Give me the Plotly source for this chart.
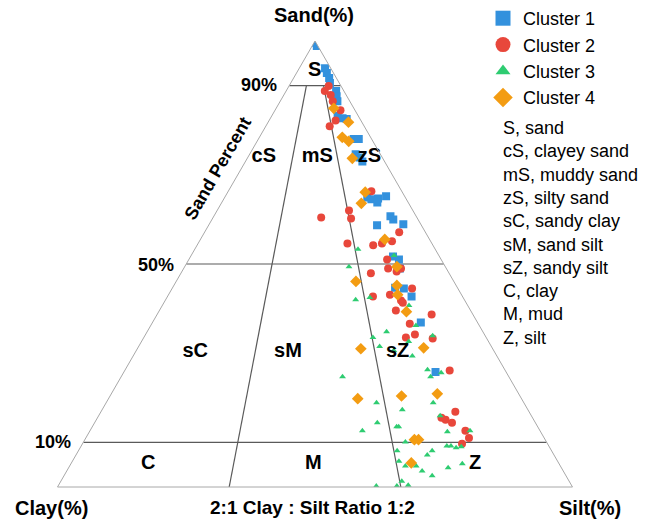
import plotly.graph_objects as go

# ---------------- data (Sand, Clay, Silt in %) ----------------
c1_sand = [99.6, 98.9, 93.9, 92.8, 91.7, 90.6, 88.8, 87.6, 86.5, 83.2, 82.7, 82.5, 78.0, 78.0, 74.6, 73.9, 73.0,
           64.9, 64.5, 64.7, 65.2, 63.8, 60.7, 60.0, 58.9, 58.7, 51.7, 51.0, 49.0, 44.7, 44.5, 42.7, 36.9, 25.8]
c1_clay = [0.2, 0.2, 1.1, 1.3, 1.4, 1.8, 1.5, 2.0, 2.4, 4.0, 3.3, 2.6, 3.5, 2.5, 4.8, 4.4, 4.3,
           7.4, 6.8, 5.4, 3.6, 6.0, 5.0, 4.8, 3.4, 8.6, 9.0, 8.2, 9.0, 12.1, 10.5, 9.9, 11.0, 13.7]
c1_silt = [0.2, 0.9, 5.0, 5.9, 6.9, 7.6, 9.7, 10.4, 11.1, 12.8, 14.0, 14.9, 18.5, 19.5, 20.6, 21.7, 22.7,
           27.7, 28.7, 29.9, 31.2, 30.2, 34.3, 35.2, 37.7, 32.7, 39.3, 40.8, 42.0, 43.2, 45.0, 47.4, 52.1, 60.5]

c2_sand = [89.9, 88.8, 87.9, 86.5, 84.5, 82.2, 80.9, 66.3, 62.0, 60.4, 60.2, 57.1, 55.1, 54.6, 54.2, 54.6, 51.0,
           49.0, 48.3, 49.0, 47.9, 44.5, 42.7, 43.1, 41.8, 41.3, 39.6, 38.7, 36.6, 34.2, 33.5, 33.3, 26.1, 16.9,
           15.5, 15.1, 14.4, 12.6, 11.0, 9.7]
c2_clay = [2.4, 3.7, 3.0, 3.3, 2.8, 4.9, 6.7, 5.9, 12.4, 18.6, 12.9, 5.1, 7.5, 9.7, 11.6, 16.4, 10.5,
           11.3, 10.0, 8.8, 15.2, 8.9, 17.4, 13.9, 12.4, 12.3, 14.5, 8.0, 13.3, 13.5, 15.6, 10.5, 10.8, 14.3,
           17.7, 17.1, 16.2, 14.5, 14.6, 16.6]
c2_silt = [7.7, 7.5, 9.1, 10.2, 12.7, 12.9, 12.4, 27.8, 25.6, 21.0, 26.9, 37.8, 37.4, 35.7, 34.2, 29.0, 38.5,
           39.7, 41.7, 42.2, 36.9, 46.6, 39.9, 43.0, 45.8, 46.4, 45.9, 53.3, 50.1, 52.3, 50.9, 56.2, 63.1, 68.8,
           66.8, 67.8, 69.4, 72.9, 74.4, 73.7]

c3_sand = [53.3, 51.9, 49.4, 42.5, 42.0, 40.7, 36.2, 34.8, 33.5, 32.6, 33.9, 31.5, 30.6, 29.4, 26.3, 25.6,
           24.7, 24.7, 18.9, 17.3, 18.9, 16.0, 14.4, 13.5, 13.5, 12.6, 12.4, 12.6, 10.1, 9.2, 9.2, 8.8, 9.0,
           8.1, 8.1, 7.2, 5.8, 4.7, 4.7, 4.3, 5.2, 3.6, 2.5, 0.2, 0.2, 1.3, 0.4]
c3_clay = [15.0, 8.7, 18.7, 18.1, 21.1, 11.4, 12.3, 18.7, 22.0, 15.5, 10.2, 21.7, 19.4, 16.4, 15.0, 12.7,
           15.2, 32.3, 28.6, 24.4, 17.6, 17.7, 30.7, 27.4, 27.0, 34.5, 18.1, 13.6, 27.4, 19.8, 19.0, 18.2, 17.1,
           30.0, 23.2, 24.6, 30.8, 30.1, 28.0, 22.0, 18.8, 27.4, 26.0, 38.0, 34.0, 32.5, 31.7]
c3_silt = [31.7, 39.4, 31.9, 39.4, 36.9, 47.9, 51.5, 46.5, 44.5, 51.9, 55.9, 46.8, 50.0, 54.2, 58.7, 61.7,
           60.1, 43.0, 52.5, 58.3, 63.5, 66.3, 54.9, 59.1, 59.5, 52.9, 69.5, 73.8, 62.5, 71.0, 71.8, 73.0, 73.9,
           61.9, 68.7, 68.2, 63.4, 65.2, 67.3, 73.7, 76.0, 69.0, 71.5, 61.8, 65.8, 66.2, 67.9]

c4_sand = [84.9, 81.8, 78.4, 77.5, 73.7, 66.1, 63.6, 55.5, 49.4, 46.1, 45.2, 43.1, 39.3, 31.0, 31.2, 19.8,
           20.4, 20.9, 10.6, 10.6, 5.4]
c4_clay = [3.9, 2.6, 5.5, 4.7, 5.9, 7.2, 9.2, 8.7, 9.4, 19.0, 11.5, 12.4, 12.6, 25.6, 13.3, 31.8,
           23.0, 15.8, 25.4, 24.6, 28.6]
c4_silt = [11.2, 15.6, 16.1, 17.8, 20.4, 26.7, 27.2, 35.8, 41.2, 34.9, 43.3, 44.5, 48.1, 43.4, 55.5, 48.4,
           56.6, 63.3, 64.0, 64.8, 66.0]

cluster_names = ["Cluster 1", "Cluster 2", "Cluster 3", "Cluster 4"]

# Folk classification boundaries
sand_levels = [90, 50, 10]
ratio_clay_fraction = [2 / 3, 1 / 3]      # clay : silt = 2:1 and 1:2

region_labels = ["S", "cS", "mS", "zS", "sC", "sM", "sZ", "C", "M", "Z"]
region_sand = [93.3, 73.9, 73.9, 73.9, 30.3, 30.3, 30.3, 5.2, 5.2, 5.2]
region_clay = [3.4, 23.0, 12.6, 2.5, 58.1, 40.1, 18.8, 79.8, 47.7, 16.3]
region_silt = [3.3, 3.1, 13.5, 23.6, 11.6, 29.6, 50.9, 15.0, 47.1, 78.5]

key_lines = ["S, sand", "cS, clayey sand", "mS, muddy sand", "zS, silty sand", "sC, sandy clay",
             "sM, sand silt", "sZ, sandy silt", "C, clay", "M, mud", "Z, silt"]

# ---------------- figure ----------------
FONT = "Arial, Liberation Sans, sans-serif"
W, H = 662, 522

fig = go.Figure()

line_col = "#5a5a5a"
for s in sand_levels:
    fig.add_trace(go.Scatterternary(
        a=[s, s], b=[100 - s, 0], c=[0, 100 - s], mode="lines",
        line=dict(color=line_col, width=1.2), showlegend=False, hoverinfo="skip"))
for f in ratio_clay_fraction:
    top = sand_levels[0]
    fig.add_trace(go.Scatterternary(
        a=[0, top], b=[100 * f, (100 - top) * f], c=[100 * (1 - f), (100 - top) * (1 - f)],
        mode="lines", line=dict(color=line_col, width=1.2), showlegend=False, hoverinfo="skip"))

series = [
    (c1_sand, c1_clay, c1_silt, "#3391DD", "square", 8),
    (c2_sand, c2_clay, c2_silt, "#E8473B", "circle", 8),
    (c3_sand, c3_clay, c3_silt, "#2ECC71", "triangle-up", 6),
    (c4_sand, c4_clay, c4_silt, "#F39C12", "diamond", 9),
]
for name, (sa, cl, si, col, sym, sz) in zip(cluster_names, series):
    fig.add_trace(go.Scatterternary(
        a=sa, b=cl, c=si, mode="markers", name=name, showlegend=False,
        marker=dict(color=col, symbol=sym, size=sz, line=dict(width=0))))
# legend entries (larger symbols as in the reference key)
for name, (sa, cl, si, col, sym, sz) in zip(cluster_names, series):
    fig.add_trace(go.Scatterternary(
        a=[None], b=[None], c=[None], mode="markers", name=name,
        marker=dict(color=col, symbol=sym, size=15 if sym != "triangle-up" else 13, line=dict(width=0))))

fig.add_trace(go.Scatterternary(
    a=region_sand, b=region_clay, c=region_silt, mode="text", text=region_labels,
    textfont=dict(family=FONT, size=20, color="black", weight="bold"),
    cliponaxis=False, showlegend=False, hoverinfo="skip"))

axis_common = dict(showgrid=False, showticklabels=False, ticks="", showline=True,
                   linecolor="#a8a8a8", linewidth=1, title=dict(text=""))

fig.update_layout(
    width=W, height=H,
    margin=dict(l=0, r=0, t=0, b=0),
    paper_bgcolor="white", plot_bgcolor="white",
    font=dict(family=FONT, color="black"),
    ternary=dict(
        sum=100, bgcolor="white",
        domain=dict(x=[57 / W, 573 / W], y=[1 - 487 / H, 1 - 41 / H]),
        aaxis=axis_common, baxis=axis_common, caxis=axis_common,
    ),
    legend=dict(x=483 / W, y=1.0, xanchor="left", yanchor="top",
                font=dict(family=FONT, size=18, color="black"),
                bgcolor="rgba(0,0,0,0)", itemsizing="trace", tracegroupgap=0),
)

ann = []
def add_text(txt, px, py, size, bold=True, xanchor="center", angle=0):
    ann.append(dict(text=txt, x=px / W, y=1 - py / H, xref="paper", yref="paper",
                    xanchor=xanchor, yanchor="middle", showarrow=False, textangle=angle,
                    font=dict(family=FONT, size=size, color="black",
                              weight="bold" if bold else "normal")))

add_text("Sand(%)", 314, 15, 20)
add_text("Clay(%)", 51, 508, 20)
add_text("Silt(%)", 590, 508, 20)
add_text("2:1 Clay : Silt Ratio 1:2", 312, 507, 19)
add_text("Sand Percent", 218, 168, 18, angle=-60)
for s, py in zip(sand_levels, [85, 265, 442]):
    xr = 57.5 + (s / 100) * 257.5 - 10
    add_text(f"{s}%", xr, py, 18, xanchor="right")
for i, t in enumerate(key_lines):
    add_text(t, 501, 128 + 23.3 * i, 18, bold=False, xanchor="left")

fig.update_layout(annotations=ann)
fig.write_html("out.html", config={"displayModeBar": False},
               post_script="document.body.style.margin='0';document.body.style.overflow='hidden';")
